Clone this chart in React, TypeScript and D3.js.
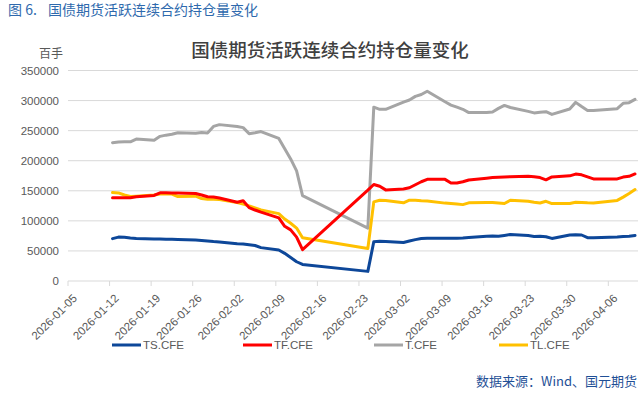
import React, { useEffect, useRef } from "react";
import * as d3 from "d3";

// trading days (Spring Festival and Qingming holidays have no data)
const dates = [
  "2026-01-12", "2026-01-13", "2026-01-14", "2026-01-15", "2026-01-16",
  "2026-01-19", "2026-01-20", "2026-01-21", "2026-01-22", "2026-01-23",
  "2026-01-26", "2026-01-27", "2026-01-28", "2026-01-29", "2026-01-30",
  "2026-02-02", "2026-02-03", "2026-02-04", "2026-02-05", "2026-02-06",
  "2026-02-09", "2026-02-10", "2026-02-11", "2026-02-12", "2026-02-13",
  "2026-02-24", "2026-02-25", "2026-02-26", "2026-02-27",
  "2026-03-02", "2026-03-03", "2026-03-04", "2026-03-05", "2026-03-06",
  "2026-03-09", "2026-03-10", "2026-03-11", "2026-03-12", "2026-03-13",
  "2026-03-16", "2026-03-17", "2026-03-18", "2026-03-19", "2026-03-20",
  "2026-03-23", "2026-03-24", "2026-03-25", "2026-03-26", "2026-03-27",
  "2026-03-30", "2026-03-31", "2026-04-01", "2026-04-02", "2026-04-03",
  "2026-04-07", "2026-04-08", "2026-04-09", "2026-04-10",
];

const ts = [
  70500, 73000, 72800, 71500, 70500,
  69800, 70000, 69300, 69300, 69000,
  68000, 67500, 66600, 65500, 65000,
  62000, 61500, 60200, 59000, 55500,
  51500, 46000, 39000, 32000, 27500,
  16000, 65200, 66000, 65800,
  64000, 66500, 68800, 70500, 71000,
  71000, 71200, 71000, 71500, 72300,
  74500, 75000, 74500, 75800, 77300,
  75500, 74000, 74500, 73500, 70800,
  76500, 77000, 76500, 72000, 72000,
  73000, 73800, 74500, 75800,
];

const tf = [
  138500, 138500, 138500, 138500, 140000,
  142300, 146700, 146700, 146500, 146500,
  145600, 143000, 140000, 139500, 138000,
  131000, 133500, 122000, 118000, 114500,
  105000, 91000, 85000, 73000, 52000,
  151000, 160500, 157500, 151500,
  153000, 155000, 160000, 165000, 169000,
  169000, 163000, 163000, 165000, 168000,
  171000, 172000, 172500, 173000, 173300,
  174000, 173500, 172000, 168300, 173000,
  174800, 177800, 176500, 173000, 169700,
  169700, 172800, 174000, 178000,
];

const t = [
  230000, 231000, 231500, 231500, 236000,
  234000, 240500, 242500, 244000, 246500,
  245500, 247000, 246000, 257000, 260000,
  257000, 255000, 245000, 246500, 248500,
  237000, 220000, 203000, 183000, 142000,
  88000, 289000, 285500, 285500,
  297500, 301000, 307000, 310000, 315500,
  298000, 292500, 289000, 285500, 280000,
  280000, 281000, 287000, 292000, 288500,
  282000, 279500, 280500, 281500, 277000,
  286000, 297000, 290000, 283500, 283500,
  286500, 295500, 296500, 302000,
];

const tl = [
  147000, 146500, 143000, 140500, 141000,
  143000, 144600, 144600, 144600, 140500,
  141000, 137000, 135800, 136000, 135500,
  130500, 128000, 125000, 121500, 118000,
  112000, 103000, 96000, 88000, 72000,
  54000, 131500, 134300, 134000,
  130000, 134300, 134400, 133500, 133000,
  129500, 128800, 128000, 127000, 130000,
  130500, 130500, 129800, 128800, 134300,
  132700, 131000, 129800, 132500, 128800,
  128800, 131000, 130500, 130000, 129800,
  134000, 139500, 145500, 152000,
];

const seriesNames = ["TS.CFE", "TF.CFE", "T.CFE", "TL.CFE"];
const seriesColors = ["#0d4799", "#ff0000", "#a5a5a5", "#ffc000"];
const yTicks = [0, 50000, 100000, 150000, 200000, 250000, 300000, 350000];

const W = 643;
const H = 394;
const LATIN = "'Liberation Sans', Arial, sans-serif";
const CJK = "'Noto Sans CJK SC', sans-serif";

const HoldingsChart = () => {
  const ref = useRef<SVGSVGElement>(null);

  useEffect(() => {
    const svg = d3.select(ref.current);
    svg.selectAll("*").remove();

    const parse = d3.utcParse("%Y-%m-%d");
    const days = dates.map((d) => parse(d) as Date);
    const x = d3
      .scaleUtc()
      .domain([parse("2026-01-05") as Date, parse("2026-04-11") as Date])
      .range([68, 638]);
    const y = d3.scaleLinear().domain([0, 350000]).range([281, 70.5]);

    // gridlines
    svg
      .append("g")
      .selectAll("line")
      .data(yTicks.slice(1))
      .join("line")
      .attr("x1", 68)
      .attr("x2", 638)
      .attr("y1", (d) => y(d))
      .attr("y2", (d) => y(d))
      .attr("stroke", "#d9d9d9")
      .attr("stroke-width", 1);

    // y labels
    svg
      .append("g")
      .selectAll("text")
      .data(yTicks)
      .join("text")
      .attr("x", 59)
      .attr("y", (d) => y(d))
      .attr("dy", "0.35em")
      .attr("text-anchor", "end")
      .style("font-family", LATIN)
      .style("font-size", "11.5px")
      .style("fill", "#595959")
      .text((d) => d);

    svg
      .append("text")
      .attr("x", 51)
      .attr("y", 58)
      .attr("text-anchor", "middle")
      .style("font-family", CJK)
      .style("font-size", "12px")
      .style("fill", "#595959")
      .text("百手");

    // x axis
    const mondays = d3.utcMonday.range(
      parse("2026-01-05") as Date,
      parse("2026-04-07") as Date
    );
    svg
      .append("line")
      .attr("x1", 68)
      .attr("x2", 638)
      .attr("y1", 281)
      .attr("y2", 281)
      .attr("stroke", "#d9d9d9");
    const fmt = d3.utcFormat("%Y-%m-%d");
    const xg = svg.append("g");
    xg.selectAll("line")
      .data(mondays)
      .join("line")
      .attr("x1", (d) => x(d))
      .attr("x2", (d) => x(d))
      .attr("y1", 281)
      .attr("y2", 286)
      .attr("stroke", "#d9d9d9");
    xg.selectAll("text")
      .data(mondays)
      .join("text")
      .attr("transform", (d) => `translate(${x(d) + 7},${296}) rotate(-45)`)
      .attr("text-anchor", "end")
      .attr("dy", "0.35em")
      .style("font-family", LATIN)
      .style("font-size", "11.5px")
      .style("fill", "#595959")
      .text((d) => fmt(d));

    // lines, points sit in the middle of each day
    const halfDay = 12 * 3600 * 1000;
    const line = d3
      .line<number>()
      .x((_, i) => x(new Date(days[i].getTime() + halfDay)))
      .y((v) => y(v));
    const all = [ts, tf, t, tl];
    const drawOrder = [2, 3, 1, 0];
    drawOrder.forEach((k) => {
      svg
        .append("path")
        .datum(all[k])
        .attr("d", line)
        .attr("fill", "none")
        .attr("stroke", seriesColors[k])
        .attr("stroke-width", 3)
        .attr("stroke-linejoin", "round")
        .attr("stroke-linecap", "round");
    });

    // legend
    const legendX = [112, 243, 374, 499];
    const lg = svg
      .append("g")
      .selectAll("g")
      .data(seriesNames)
      .join("g")
      .attr("transform", (_, i) => `translate(${legendX[i]},345)`);
    lg.append("line")
      .attr("x1", 0)
      .attr("x2", 29)
      .attr("stroke", (_, i) => seriesColors[i])
      .attr("stroke-width", 3);
    lg.append("text")
      .attr("x", 31)
      .attr("dy", "0.35em")
      .style("font-family", LATIN)
      .style("font-size", "11.5px")
      .style("fill", "#595959")
      .text((d) => d);

    // titles
    svg
      .append("text")
      .attr("x", 330)
      .attr("y", 57)
      .attr("text-anchor", "middle")
      .style("font-family", CJK)
      .style("font-size", "18.5px")
      .style("font-weight", 500)
      .style("fill", "#404040")
      .text("国债期货活跃连续合约持仓量变化");

    const cap = svg
      .append("g")
      .style("font-family", CJK)
      .style("font-size", "14px")
      .style("fill", "#2e69ad");
    cap.append("text").attr("x", 8).attr("y", 15).text("图 6.");
    cap.append("text").attr("x", 48).attr("y", 15).text("国债期货活跃连续合约持仓量变化");

    svg
      .append("text")
      .attr("x", 637)
      .attr("y", 386)
      .attr("text-anchor", "end")
      .style("font-family", CJK)
      .style("font-size", "13px")
      .style("fill", "#1f4f96")
      .text("数据来源：Wind、国元期货");
  }, []);

  return (
    <svg
      ref={ref}
      width={W}
      height={H}
      style={{ position: "absolute", left: 0, top: 0, background: "#fff" }}
    />
  );
};

export default function App() {
  return <HoldingsChart />;
}
